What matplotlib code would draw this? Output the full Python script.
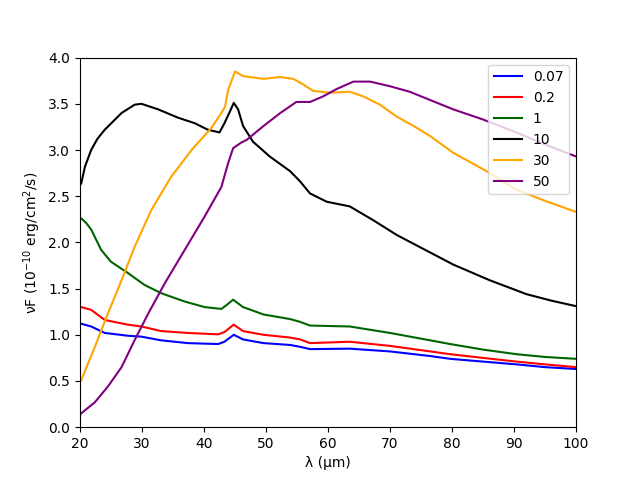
import matplotlib
matplotlib.use("Agg")
import matplotlib.pyplot as plt

labels = ["0.07", "0.2", "1", "10", "30", "50"]
colors = ["blue", "red", "darkgreen", "black", "orange", "purple"]

x_blue = [20, 20.2, 21.8, 24, 27.7, 29.9, 33.1, 37.4, 42.3, 43.3, 44.8, 46.3, 49.6, 53.9, 55.5, 57.1, 63.5, 70, 76.5, 79.7, 85, 90.4, 95, 100]
y_blue = [1.12, 1.12, 1.09, 1.02, 0.99, 0.98, 0.94, 0.91, 0.90, 0.925, 1.00, 0.95, 0.91, 0.89, 0.87, 0.845, 0.85, 0.82, 0.77, 0.74, 0.71, 0.68, 0.65, 0.63]

x_red = [20, 20.2, 21.8, 24, 27.7, 29.9, 33.1, 37.4, 42.3, 43.3, 44.8, 46.3, 49.6, 53.9, 55.5, 57.1, 63.5, 70, 76.5, 79.7, 85, 90.4, 95, 100]
y_red = [1.30, 1.30, 1.27, 1.16, 1.11, 1.09, 1.04, 1.02, 1.005, 1.03, 1.11, 1.04, 1.00, 0.97, 0.95, 0.91, 0.925, 0.88, 0.82, 0.79, 0.75, 0.71, 0.68, 0.65]

x_green = [20, 20.2, 21, 21.8, 22.6, 23.4, 25, 27.7, 30.4, 33.1, 36.9, 40.1, 42.8, 43.6, 44.7, 46.3, 49.6, 53.9, 55.5, 57.1, 63.5, 70, 76.5, 79.7, 85, 90.4, 95, 100]
y_green = [2.26, 2.26, 2.21, 2.14, 2.03, 1.92, 1.79, 1.67, 1.54, 1.45, 1.36, 1.30, 1.28, 1.32, 1.38, 1.30, 1.22, 1.17, 1.14, 1.10, 1.09, 1.02, 0.94, 0.90, 0.84, 0.79, 0.76, 0.74]

x_black = [20, 20.2, 20.8, 21.8, 22.8, 24, 26.7, 28.8, 29.9, 32.6, 35.8, 38.5, 40.6, 42.5, 43.3, 44.2, 44.8, 45.5, 46.3, 47.9, 50.6, 53.9, 55.5, 57.1, 59.8, 63.5, 67.3, 71.1, 76.5, 80.2, 86.1, 92, 96, 100]
y_black = [2.62, 2.64, 2.82, 3.0, 3.12, 3.22, 3.40, 3.49, 3.50, 3.44, 3.35, 3.29, 3.22, 3.19, 3.29, 3.42, 3.51, 3.44, 3.26, 3.09, 2.93, 2.77, 2.66, 2.53, 2.44, 2.39, 2.24, 2.08, 1.89, 1.76, 1.59, 1.44, 1.37, 1.31]

x_orange = [20, 20.2, 22.4, 24.5, 26.7, 28.8, 31.5, 34.7, 38, 41.2, 42.8, 43.4, 43.9, 45, 46.3, 49.6, 52.3, 54.4, 56, 57.6, 60.3, 63.5, 65.7, 68.4, 71.1, 73.8, 76.5, 80.2, 85.6, 90.4, 95, 100]
y_orange = [0.49, 0.51, 0.87, 1.23, 1.59, 1.95, 2.35, 2.71, 3.0, 3.24, 3.40, 3.47, 3.65, 3.85, 3.80, 3.77, 3.79, 3.77, 3.71, 3.64, 3.62, 3.63, 3.58, 3.49, 3.36, 3.26, 3.15, 2.97, 2.77, 2.57, 2.45, 2.33]

x_purple = [20, 20.2, 22.4, 24.5, 26.7, 28.8, 31, 33.7, 36.9, 40.1, 42.8, 43.9, 44.7, 46, 46.9, 49.6, 52.3, 54.9, 57.1, 59.2, 61.4, 64.1, 66.8, 70, 73.2, 76.5, 80.2, 85, 90, 95, 100]
y_purple = [0.13, 0.15, 0.27, 0.44, 0.65, 0.94, 1.23, 1.56, 1.92, 2.28, 2.60, 2.86, 3.02, 3.08, 3.11, 3.26, 3.40, 3.52, 3.52, 3.58, 3.66, 3.74, 3.74, 3.69, 3.63, 3.54, 3.44, 3.33, 3.20, 3.06, 2.93]

xs = [x_blue, x_red, x_green, x_black, x_orange, x_purple]
ys = [y_blue, y_red, y_green, y_black, y_orange, y_purple]

fig, ax = plt.subplots(figsize=(6.4, 4.8), dpi=100)
for x, y, c, l in zip(xs, ys, colors, labels):
    ax.plot(x, y, color=c, label=l, lw=1.5)
ax.set_xlim(20, 100)
ax.set_ylim(0, 4.0)
ax.set_xlabel("λ (μm)")
ax.set_ylabel("νF ($10^{-10}$ erg/cm$^2$/s)")
ax.legend(loc="upper right")
fig.savefig("out.png", dpi=100)
